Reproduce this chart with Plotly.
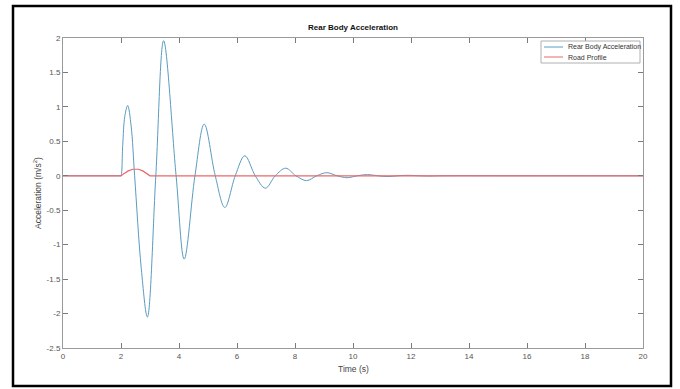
import plotly.graph_objects as go

# ---------------- data ----------------
t_acc = [0.0, 1.0, 1.9, 1.98, 2.0, 2.06, 2.13, 2.23, 2.35, 2.47, 2.7, 2.91,
         3.2, 3.47, 3.9, 4.18, 4.55, 4.87, 5.25, 5.58, 5.94, 6.27, 6.63,
         6.98, 7.32, 7.68, 8.03, 8.4, 8.75, 9.1, 9.45, 9.8, 10.15, 10.5,
         10.85, 11.2, 11.55, 11.9, 12.25, 12.6, 13.0, 16.0, 20.0]
acc = [0.0, 0.0, 0.0, 0.0, 0.0, 0.45, 0.86, 1.02, 0.72, 0.0, -1.35, -2.05,
       0.0, 1.96, 0.0, -1.21, 0.0, 0.75, 0.0, -0.46, 0.0, 0.29, 0.0,
       -0.18, 0.0, 0.11, 0.0, -0.07, 0.0, 0.045, 0.0, -0.028, 0.0, 0.018,
       0.0, -0.011, 0.0, 0.007, 0.0, -0.004, 0.0, 0.0, 0.0]

t_road = [0.0, 2.0, 2.1, 2.25, 2.4, 2.5, 2.6, 2.75, 2.9, 3.0, 20.0]
road = [0.0, 0.0, 0.031, 0.071, 0.095, 0.1, 0.095, 0.071, 0.031, 0.0, 0.0]

x_ticks = [0, 2, 4, 6, 8, 10, 12, 14, 16, 18, 20]
y_ticks = [-2.5, -2, -1.5, -1, -0.5, 0, 0.5, 1, 1.5, 2]
y_ticktext = ["-2.5", "-2", "-1.5", "-1", "-0.5", "0", "0.5", "1", "1.5", "2"]

names = ["Rear Body Acceleration", "Road Profile"]
colors = ["#5a9cbf", "#e8696b"]

# ---------------- layout geometry ----------------
W, H = 680, 389
L, R, T, B = 63, 37, 38, 41
PW, PH = W - L - R, H - T - B


def px(x):
    return (x - L) / PW


def py(y):
    return (H - B - y) / PH


FONT = "Liberation Sans, Arial, sans-serif"

fig = go.Figure()
fig.add_trace(go.Scatter(x=t_acc, y=acc, mode="lines", name=names[0],
                         line=dict(color=colors[0], width=1, shape="spline"),
                         showlegend=False))
fig.add_trace(go.Scatter(x=t_road, y=road, mode="lines", name=names[1],
                         line=dict(color=colors[1], width=1.2),
                         showlegend=False))

axis_common = dict(showgrid=False, zeroline=False, showline=True,
                   linecolor="#9a9a9a", linewidth=1, mirror="ticks",
                   ticks="inside", ticklen=5, tickcolor="#7a7a7a",
                   tickfont=dict(family=FONT, size=8, color="#555555"))

fig.update_xaxes(range=[0, 20], tickvals=x_ticks,
                 ticktext=[str(v) for v in x_ticks], **axis_common)
fig.update_yaxes(range=[-2.5, 2], tickvals=y_ticks, ticktext=y_ticktext,
                 **axis_common)

shapes = [
    # outer figure border
    dict(type="rect", xref="paper", yref="paper",
         x0=px(13), x1=px(671), y0=py(386), y1=py(6),
         line=dict(color="black", width=2.5)),
    # legend box
    dict(type="rect", xref="paper", yref="paper",
         x0=px(541), x1=px(640), y0=py(63), y1=py(41),
         line=dict(color="#b0b0b0", width=1), fillcolor="white"),
    dict(type="line", xref="paper", yref="paper",
         x0=px(544), x1=px(563), y0=py(47), y1=py(47),
         line=dict(color=colors[0], width=1)),
    dict(type="line", xref="paper", yref="paper",
         x0=px(544), x1=px(563), y0=py(57), y1=py(57),
         line=dict(color=colors[1], width=1)),
]

annotations = [
    dict(text=names[0], xref="paper", yref="paper", x=px(566), y=py(47),
         xanchor="left", yanchor="middle", showarrow=False,
         font=dict(family=FONT, size=7, color="#333333")),
    dict(text=names[1], xref="paper", yref="paper", x=px(566), y=py(57),
         xanchor="left", yanchor="middle", showarrow=False,
         font=dict(family=FONT, size=7, color="#333333")),
    dict(text="Time (s)", xref="paper", yref="paper", x=px(353), y=py(369),
         xanchor="center", yanchor="middle", showarrow=False,
         font=dict(family=FONT, size=8.5, color="#444444")),
    dict(text="Acceleration (m/s<sup>2</sup>)", xref="paper", yref="paper",
         x=px(37), y=py(193), xanchor="center", yanchor="middle",
         textangle=-90, showarrow=False,
         font=dict(family=FONT, size=8.5, color="#444444")),
    dict(text="<b>Rear Body Acceleration</b>", xref="paper", yref="paper",
         x=px(353), y=py(27), xanchor="center", yanchor="middle",
         showarrow=False, font=dict(family=FONT, size=8, color="#111111")),
]

fig.update_layout(width=W, height=H,
                  margin=dict(l=L, r=R, t=T, b=B, pad=0),
                  paper_bgcolor="white", plot_bgcolor="white",
                  shapes=shapes, annotations=annotations,
                  showlegend=False)

fig.write_html("out.html", config={"displayModeBar": False},
               post_script="document.body.style.margin='0';"
                           "document.body.style.overflow='hidden';")
